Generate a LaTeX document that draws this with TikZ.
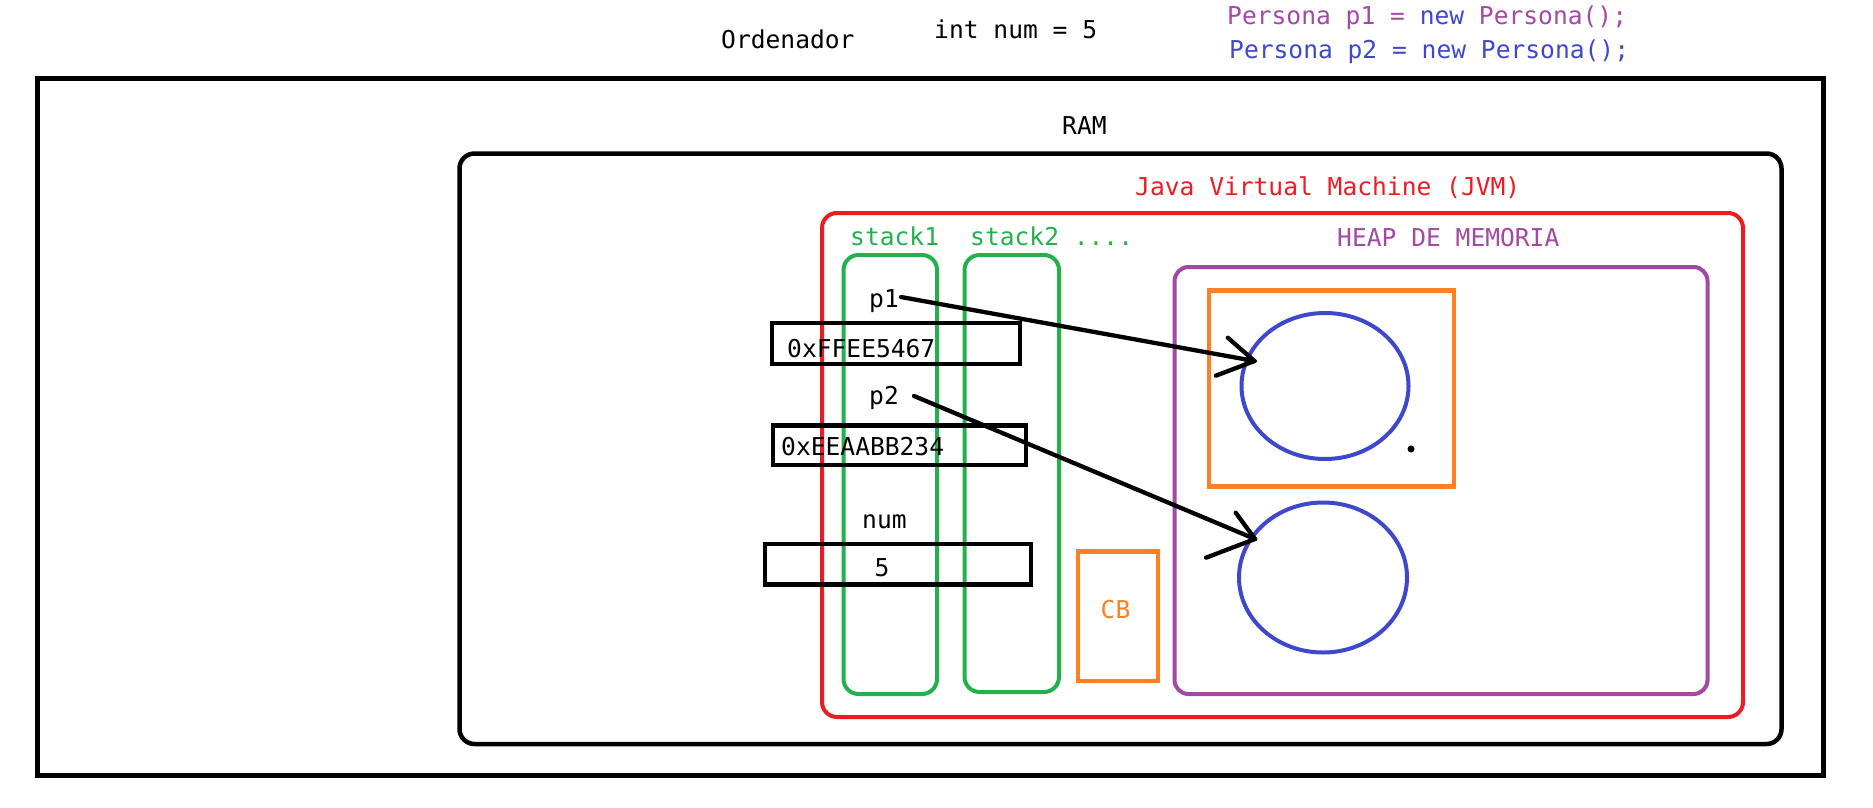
\documentclass[tikz,border=0pt]{standalone}
\usepackage{fontspec}
\usetikzlibrary{shapes.geometric}
\newfontfamily\codefont{DejaVu Sans Mono}
\definecolor{pred}{HTML}{ED1C24}
\definecolor{pgreen}{HTML}{22B14C}
\definecolor{ppurple}{HTML}{A349A4}
\definecolor{pblue}{HTML}{3F48CC}
\definecolor{porange}{HTML}{FF7F27}
\tikzset{
  lbl/.style={anchor=base west, inner sep=0pt, font=\codefont\fontsize{24.6}{30}\selectfont},
  frame/.style={draw, anchor=north west, inner sep=0pt, outer sep=0pt},
  roundframe/.style={frame, rounded corners=15pt},
  varbox/.style={frame, draw=black, line width=4.2pt},
  obj/.style={draw=pblue, ellipse, line width=4pt, inner sep=0pt},
  arr/.style={draw=black, line width=4.3pt, line cap=round},
}
\begin{document}
\begin{tikzpicture}[x=1pt,y=-1pt]
\useasboundingbox (0,0) rectangle (1873,808);
\fill[white] (0,0) rectangle (1873,808);
% top texts
\node[lbl] (ord) at (721,48.3) {Ordenador};
\node[lbl] (intnum) at (934,39) {int num = 5};
\node[lbl, text=ppurple] (decl1) at (1227,25) {Persona p1 = \textcolor{pblue}{new} Persona();};
\node[lbl, text=pblue] (decl2) at (1229,58.3) {Persona p2 = new Persona();};
% computer frame
\node[frame, line width=5pt, minimum width=1786pt, minimum height=697pt] (pc) at (37,78.5) {};
\node[lbl] (ramlbl) at (1062,134) {RAM};
\node[roundframe, line width=4.5pt, minimum width=1322pt, minimum height=590.5pt] (ram) at (459.5,153.5) {};
% JVM
\node[lbl, text=pred] (jvmlbl) at (1135,195.7) {Java Virtual Machine (JVM)};
\node[roundframe, draw=pred, line width=4pt, minimum width=921pt, minimum height=504pt] (jvm) at (822,213) {};
% stacks
\node[lbl, text=pgreen] (s1lbl) at (850,245) {stack1};
\node[lbl, text=pgreen] (s2lbl) at (970,245) {stack2 ....};
\node[roundframe, draw=pgreen, line width=4pt, minimum width=93.5pt, minimum height=439pt] (stack1) at (843.5,255) {};
\node[roundframe, draw=pgreen, line width=4pt, minimum width=94.5pt, minimum height=437pt] (stack2) at (964.5,255) {};
% variables
\node[varbox, minimum width=248pt, minimum height=41pt] (boxp1) at (772,323) {};
\node[varbox, minimum width=253pt, minimum height=39.5pt] (boxp2) at (773,425.5) {};
\node[varbox, minimum width=266pt, minimum height=40.5pt] (boxnum) at (765,544) {};
\node[lbl] (p1) at (869,307) {p1};
\node[lbl] (addr1) at (787,357) {0xFFEE5467};
\node[lbl] (p2) at (869,404) {p2};
\node[lbl] (addr2) at (781,455) {0xEEAABB234};
\node[lbl] (numlbl) at (862,528) {num};
\node[lbl] (five) at (874.5,576) {5};
% CB
\node[frame, draw=porange, line width=4.2pt, minimum width=80pt, minimum height=129.5pt] (cb) at (1078,551.5) {};
\node[lbl, text=porange] (cblbl) at (1100.5,618) {CB};
% heap
\node[lbl, text=ppurple] (heaplbl) at (1337,246.7) {HEAP DE MEMORIA};
\node[roundframe, rounded corners=14pt, draw=ppurple, line width=4pt, minimum width=533pt, minimum height=427pt] (heap) at (1174.5,267) {};
\node[frame, draw=porange, line width=4.2pt, minimum width=245pt, minimum height=196pt] (obj1box) at (1209,290.5) {};
\node[obj, minimum width=167pt, minimum height=146pt] (obj1) at (1325,386) {};
\node[obj, minimum width=168pt, minimum height=150pt] (obj2) at (1323,577.5) {};
\fill (1411,449) circle (3.5pt);
% references
\coordinate (s1) at (901,297);
\coordinate (t1) at (1254.5,361);
\coordinate (s2) at (914,396);
\coordinate (t2) at (1255,539);
\draw[arr] (s1) -- (t1);
\draw[arr] (t1) -- ++(-26.7,-23.3);
\draw[arr] (t1) -- ++(-38.7,14.7);
\draw[arr] (s2) -- (t2);
\draw[arr] (t2) -- ++(-19.3,-26.3);
\draw[arr] (t2) -- ++(-49,18.7);
\end{tikzpicture}
\end{document}
